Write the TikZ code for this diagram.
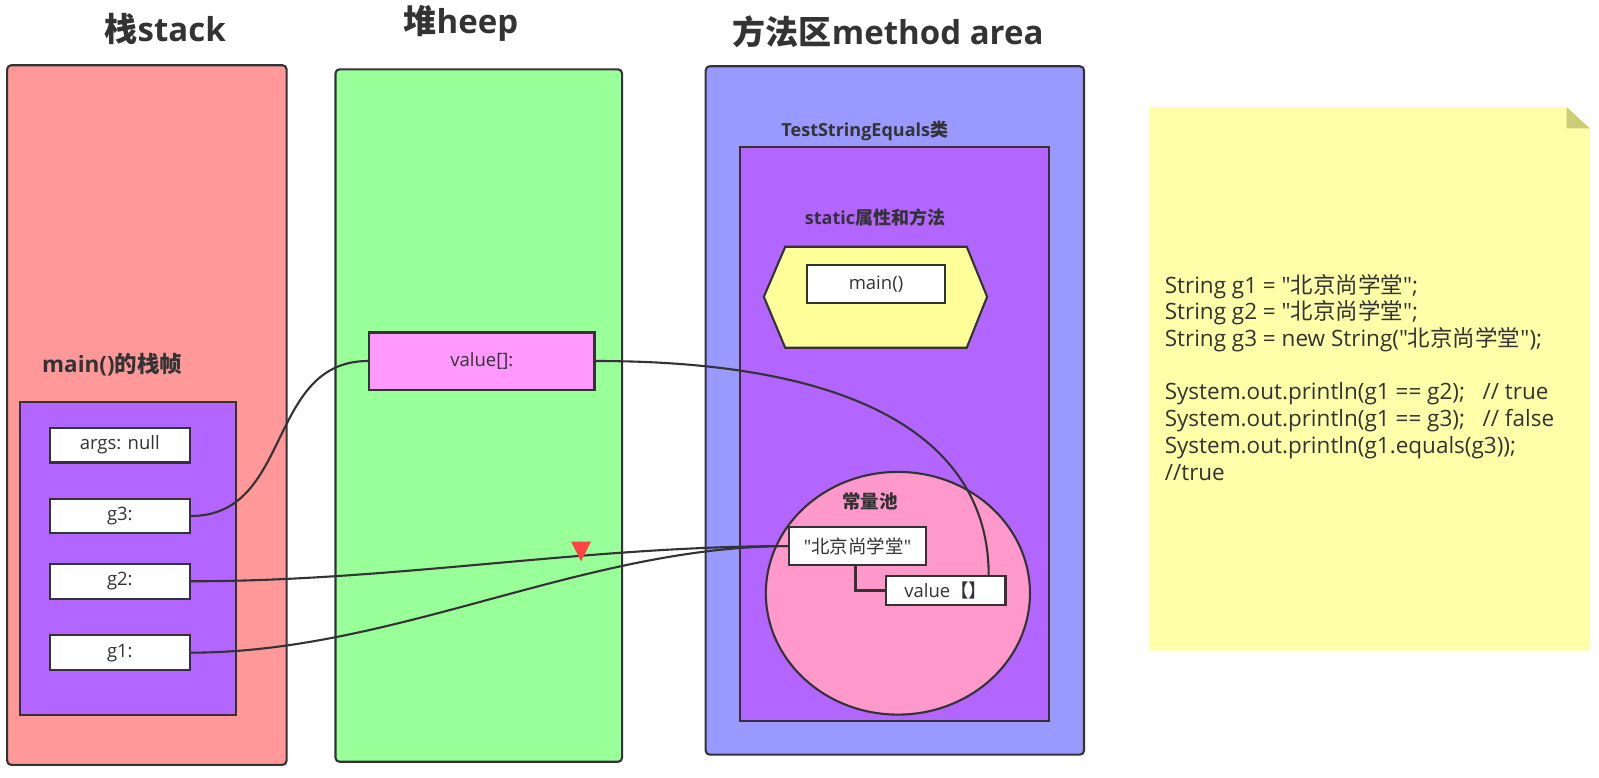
\documentclass[tikz,border=0pt]{standalone}
\usepackage{fontspec}
\setmainfont{Open Sans}
\newfontfamily\cjk{Noto Sans CJK SC}
\newfontfamily\qfont{Open Sans}
\newcommand\dq{{\qfont"}}
\usetikzlibrary{fit,calc,shapes.geometric}
\definecolor{linec}{HTML}{333333}
\definecolor{txtc}{HTML}{333333}
\definecolor{stackred}{HTML}{FF9999}
\definecolor{heapgreen}{HTML}{99FF99}
\definecolor{methodblue}{HTML}{9999FF}
\definecolor{framepurple}{HTML}{B266FF}
\definecolor{hexyellow}{HTML}{FFFF99}
\definecolor{valpink}{HTML}{FF99FF}
\definecolor{poolpink}{HTML}{FF99CC}
\definecolor{notey}{HTML}{FFFFAA}
\definecolor{foldc}{HTML}{CCCC77}
\definecolor{redmark}{HTML}{FF4444}
\begin{document}
\begin{tikzpicture}[x=1.0198pt,y=-1.0198pt,
  region/.style={draw=linec, line width=2.1pt, rounded corners=4pt, inner sep=0pt},
  sharpbox/.style={draw=linec, line width=2.1pt, inner sep=0pt},
  cell/.style={draw=linec, line width=2.1pt, fill=white, inner sep=0pt, text=txtc,
    font=\fontsize{18.5}{20}\selectfont, minimum width=139.7pt, minimum height=34.7pt},
  titletext/.style={inner sep=0pt, text=txtc, font=\fontsize{33}{36}\selectfont\bfseries},
  lbl/.style={inner sep=0pt, text=txtc, font=\fontsize{18}{20}\selectfont\bfseries},
  wire/.style={draw=linec, line width=2.1pt}]
\useasboundingbox (0,0) rectangle (1568,762);

% stack
\node[region, fill=stackred, fit={(7,64)(281,750)}] (stack) {};
\node[titletext] (tstack) at (162,28) {{\cjk 栈}stack};
\node[inner sep=0pt, text=txtc, font=\fontsize{22.5}{24}\selectfont\bfseries] (tframe) at (110,358) {main(){\cjk 的栈帧}};
\node[sharpbox, fill=framepurple, fit={(20,394)(231,701)}] (frame) {};
\node[cell] (args) at (117.5,436.5) {args: null};
\node[cell] (g3) at (117.5,506) {g3:};
\node[cell] (g2) at (117.5,570) {g2:};
\node[cell] (g1) at (117.5,640) {g1:};

% heap
\node[region, fill=heapgreen, fit={(329,68)(610,747)}] (heap) {};
\node[titletext] (theap) at (452,23) {{\cjk 堆}heep};
\node[cell, fill=valpink, minimum width=225.4pt, minimum height=57.1pt] (val) at (472.5,354) {value[]:};

% method area
\node[region, fill=methodblue, fit={(692,65)(1063,740)}] (method) {};
\node[titletext] (tmethod) at (871,31) {{\cjk 方法区}method area};
\node[lbl] (tclass) at (848,128) {TestStringEquals{\cjk 类}};
\node[sharpbox, fill=framepurple, fit={(726,144)(1029,707)}] (cls) {};
\node[lbl] (tstatic) at (858,213) {static{\cjk 属性和方法}};
\draw[wire, fill=hexyellow] (749,291) -- (770,242) -- (948,242) -- (968,291) -- (948,341) -- (770,341) -- cycle;
\node[cell, minimum width=138.7pt, minimum height=37.7pt] (mainm) at (859,278.5) {main()};
\node[draw=linec, line width=2.1pt, fill=poolpink, ellipse, inner sep=0pt,
      minimum width=264.1pt, minimum height=242.7pt] (pool) at (880.5,581.75) {};
\node[lbl, font=\fontsize{18.5}{20}\selectfont\bfseries] (tpool) at (853,492) {\cjk 常量池};
\node[cell, minimum width=136.7pt, minimum height=37.7pt] (str) at (841,535.5) {\dq{\cjk 北京尚学堂}\dq};
\node[cell, minimum width=119.3pt, minimum height=28.6pt] (vbox) at (927.5,579) {value{\cjk 【】}};
\draw[wire] ($(str.south west)+(66,0)$) |- (vbox.west);

% connectors
\draw[wire] (g3.east) .. controls +(100,0) and +(-100,0) .. (val.west);
\draw[wire] (val.east) .. controls +(280,0) and +(0,-120) .. ($(vbox.north east)+(-17.5,0)$);
\draw[wire] (g2.east) .. controls +(200,0) and +(-200,0) .. (str.west);
\draw[wire] (g1.east) .. controls +(200,0) and +(-200,0) .. (str.west);
\fill[redmark] (560,531) -- (579.6,531) -- (569.8,550.5) -- cycle;

% note
\fill[notey] (1127,105) -- (1536.3,105) -- (1559,126) -- (1559,638) -- (1127,638) -- cycle;
\fill[foldc] (1536.3,105) -- (1559,126) -- (1536.3,126) -- cycle;
\node[anchor=north west, inner sep=0pt, align=left, text=txtc, font=\fontsize{22.5}{26.7}\selectfont] (code) at (1142,267.7) {%
\rule{0pt}{20pt}String g1 = \dq{\cjk 北京尚学堂}\dq;\\
String g2 = \dq{\cjk 北京尚学堂}\dq;\\
String g3 = new String(\dq{\cjk 北京尚学堂}\dq);\\[26.7pt]
System.out.println(g1 == g2);\ \ \ // true\\
System.out.println(g1 == g3);\ \ \ // false\\
System.out.println(g1.equals(g3));\\
//true};
\end{tikzpicture}
\end{document}
